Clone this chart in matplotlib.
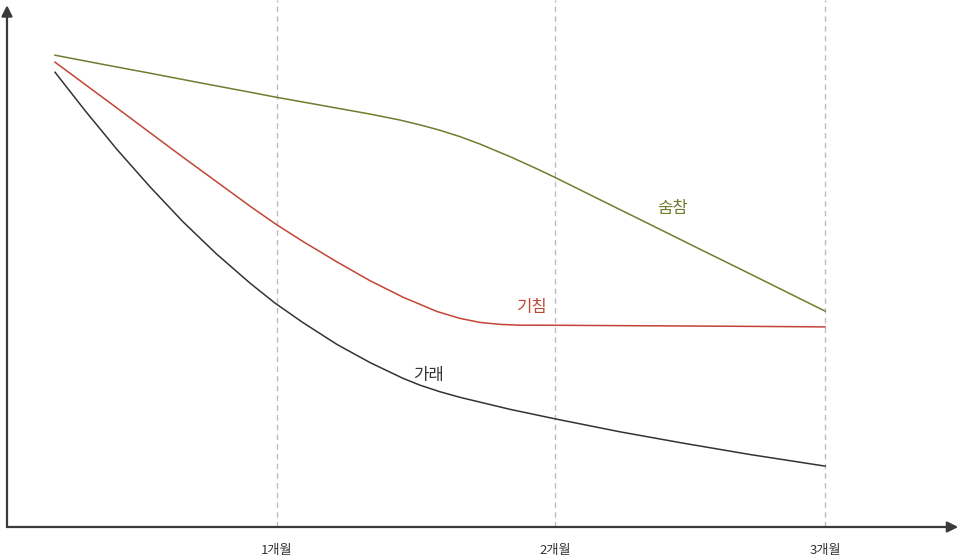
import matplotlib
matplotlib.use("Agg")
import matplotlib.pyplot as plt

plt.rcParams['font.family'] = ['Noto Sans CJK KR', 'DejaVu Sans']

# x in days since start, y = symptom level (arbitrary 0-100)
tick_days = [30, 61, 91]
tick_labels = ['1개월', '2개월', '3개월']

breath_x = [5.34, 10.34, 15.91, 21.47, 27.03, 29.81, 35.37, 40.38, 43.72, 45.94, 48.16, 50.39, 52.61,
            55.95, 58.95, 61.07, 65.96, 71.52, 77.08, 82.65, 88.21, 90.99]
breath_y = [90.42, 88.77, 86.97, 85.13, 83.33, 82.41, 80.69, 79.14, 77.99, 77.07, 76.03, 74.81, 73.39,
            70.98, 68.64, 66.90, 62.72, 57.99, 53.24, 48.51, 43.75, 41.38]

cough_x = [5.34, 8.68, 12.24, 15.91, 19.58, 23.25, 27.03, 29.81, 32.93, 36.71, 40.38, 44.05, 47.83,
           50.39, 52.61, 54.84, 57.06, 61.07, 71.52, 82.65, 90.99]
cough_y = [89.08, 84.83, 80.29, 75.57, 70.86, 66.25, 61.49, 58.14, 54.71, 50.80, 47.20, 44.04, 41.30,
           39.98, 39.21, 38.83, 38.68, 38.66, 38.56, 38.45, 38.35]

phlegm_x = [5.34, 8.68, 12.24, 15.91, 19.58, 23.25, 27.03, 29.81, 32.93, 36.71, 40.38, 44.05, 45.94,
            48.16, 50.39, 55.95, 61.07, 68.19, 75.20, 82.65, 90.99]
phlegm_y = [87.16, 79.81, 72.34, 65.19, 58.49, 52.41, 46.74, 42.91, 39.16, 34.98, 31.51, 28.49, 27.18,
            25.92, 24.85, 22.55, 20.69, 18.24, 16.07, 13.89, 11.67]

names = ['숨참', '기침', '가래']
label_pos = [(74.0, 61.1), (58.4, 42.0), (46.9, 29.1)]
colors = ['#6e7d2e', '#c24535', '#333333']

fig = plt.figure(figsize=(9.6, 5.59), dpi=100)
ax = fig.add_axes([7/960, 32/559, 953/960, 527/559])
ax.set_xlim(0, 106)
ax.set_ylim(0, 101)
for s in ax.spines.values():
    s.set_visible(False)
ax.set_yticks([])
ax.set_xticks(tick_days)
ax.set_xticklabels(tick_labels, fontsize=9.5, color='#333333')
ax.tick_params(axis='x', length=0, pad=12)

# dashed month guides
for d in tick_days:
    ax.axvline(d, color='#bdbdbd', lw=1, ls=(0, (4, 3)), zorder=1)

for xs, ys, c in zip([breath_x, cough_x, phlegm_x], [breath_y, cough_y, phlegm_y], colors):
    ax.plot(xs, ys, color=c, lw=1.1, zorder=3, solid_joinstyle='round')

for n, (lx, ly), c in zip(names, label_pos, colors):
    ax.text(lx, ly, n, color=c, fontsize=12, ha='center', va='center')

# axis arrows
arr = dict(arrowstyle='-|>', color='#3a3a3a', lw=1.6, mutation_scale=16, shrinkA=0, shrinkB=0)
ax.annotate('', xy=(0, 100), xytext=(0, 0), arrowprops=arr, annotation_clip=False)
ax.annotate('', xy=(105.8, 0), xytext=(0, 0), arrowprops=arr, annotation_clip=False)

fig.savefig('out.png', dpi=100)
